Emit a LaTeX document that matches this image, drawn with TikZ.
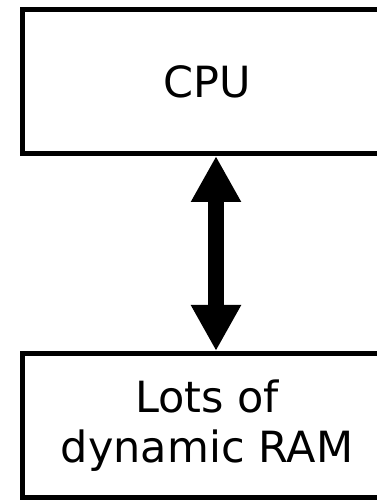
\documentclass[tikz,border=0pt]{standalone}
\usepackage{fontspec}
\setmainfont{DejaVu Sans}
\usetikzlibrary{arrows.meta}
\tikzset{
  unitbox/.style={draw=black, line width=5pt, rectangle, align=center,
    minimum width=369pt, font=\fontsize{43}{50}\selectfont, inner sep=0pt},
  busarrow/.style={line width=16pt, draw=black,
    {Triangle[length=46pt,width=47pt]}-{Triangle[length=46pt,width=47pt]}}
}
\begin{document}
\begin{tikzpicture}[x=1pt,y=1pt]
  \useasboundingbox (0,0) rectangle (377,500);
  % processor block at the top, memory block at the bottom
  \node[unitbox, minimum height=144pt] (cpu) at (207,418.5) {CPU};
  \node[unitbox, minimum height=144.5pt] (ram) at (207,74.25) {Lots of\\dynamic RAM};
  % two-way bus between them
  \draw[busarrow] ([xshift=9pt]cpu.south) -- ([xshift=9pt]ram.north);
\end{tikzpicture}
\end{document}
